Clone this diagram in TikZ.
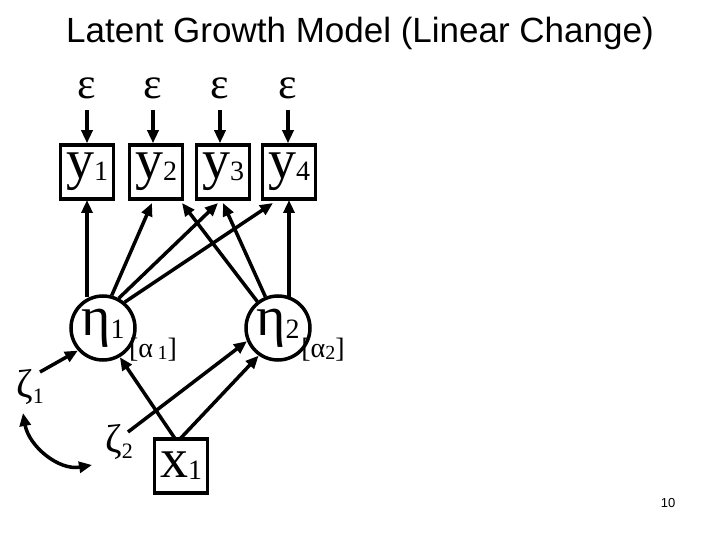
\documentclass[tikz,border=0pt]{standalone}
\usepackage{fontspec}
\setmainfont{Liberation Serif}
\newfontfamily\titlefont{Liberation Sans}
\usetikzlibrary{arrows.meta}
\begin{document}
\begin{tikzpicture}[x=1pt,y=-1pt,
  obs/.style={draw,line width=3.5pt,minimum width=53pt,minimum height=54pt,inner sep=0pt,font=\fontsize{56}{56}\selectfont},
  lat/.style={draw,circle,line width=3.5pt,minimum size=64pt,inner sep=0pt,font=\fontsize{56}{56}\selectfont},
  arr/.style={line width=3.5pt,-{Triangle[length=13pt,width=11pt]}},
  sym/.style={font=\fontsize{44}{44}\selectfont,inner sep=0pt},
  sb/.style={font=\fontsize{28}{28}\selectfont}]
\useasboundingbox (0,0) rectangle (720,540);
\node[font=\titlefont\fontsize{35}{40}\selectfont] (title) at (360,33) {Latent Growth Model (Linear Change)};
\node[obs] (y1) at (87,172) {y\raisebox{-2pt}{\fontsize{28}{28}\selectfont 1}};
\node[obs] (y2) at (156,172) {y\raisebox{-2pt}{\fontsize{28}{28}\selectfont 2}};
\node[obs] (y3) at (223,172) {y\raisebox{-2pt}{\fontsize{28}{28}\selectfont 3}};
\node[obs] (y4) at (289,172) {y\raisebox{-2pt}{\fontsize{28}{28}\selectfont 4}};
\foreach \i/\x in {1/87,2/153,3/220,4/288}{
  \node[sym] (e\i) at (\x,88) {ε};
  \draw[arr] (\x,110) coordinate (es\i) (es\i) -- (y\i.north -| es\i);
}
\node[lat] (h1) at (103,328) {η\raisebox{-3pt}{\fontsize{28}{28}\selectfont 1}};
\node[lat] (h2) at (278,328) {η\raisebox{-3pt}{\fontsize{28}{28}\selectfont 2}};
\node[obs] (x1) at (181,466) {x\raisebox{-2pt}{\fontsize{28}{28}\selectfont 1}};
\node[font=\fontsize{28}{28}\selectfont] (a1) at (153,350) {[α\,\raisebox{-2pt}{\fontsize{20}{20}\selectfont 1}]};
\node[font=\fontsize{28}{28}\selectfont] (a2) at (323,350) {[α\raisebox{-2pt}{\fontsize{20}{20}\selectfont 2}]};
\node[font=\fontsize{40}{40}\selectfont] (z1) at (30,387) {ζ\raisebox{-6pt}{\fontsize{22}{22}\selectfont 1}};
\node[font=\fontsize{40}{40}\selectfont] (z2) at (119,442) {ζ\raisebox{-6pt}{\fontsize{22}{22}\selectfont 2}};
\node[font=\titlefont\fontsize{13}{13}\selectfont] (pg) at (668,503) {10};
\coordinate (b1) at (87,200); \coordinate (b2) at (152,203); \coordinate (b3) at (218,203); \coordinate (b4) at (273,203);
\coordinate (c2) at (182,203); \coordinate (c3) at (223,203); \coordinate (c4) at (289,200);
\draw[arr] (87,297) -- (b1);
\draw[arr] (h1.75) -- (b2);
\draw[arr] (h1.62) -- (b3);
\draw[arr] (h1.50) -- (b4);
\draw[arr] (h2.128) -- (c2);
\draw[arr] (h2.112) -- (c3);
\draw[arr] (289,298) -- (c4);
\coordinate (xa) at (176,440); \coordinate (xb) at (179,440);
\draw[arr] (xa) -- (h1.300);
\draw[arr] (xb) -- (h2.235);
\coordinate (za) at (40,372); \coordinate (zb) at (128,432);
\draw[arr] (za) -- (h1.222);
\draw[arr] (zb) -- (h2.203);
\draw[line width=3.5pt,{Triangle[length=13pt,width=11pt]}-{Triangle[length=13pt,width=11pt]}] (23,413) to[out=-80,in=190] (92,465);
\end{tikzpicture}
\end{document}
